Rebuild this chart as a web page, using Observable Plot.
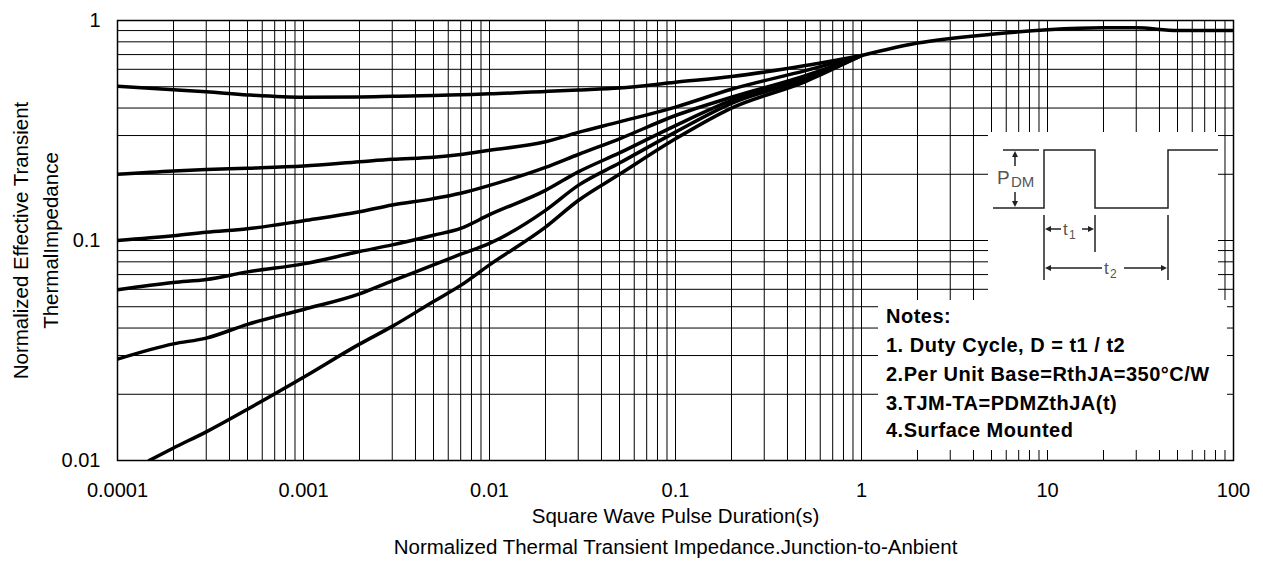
<!DOCTYPE html>
<html>
<head>
<meta charset="utf-8">
<script src="https://cdn.jsdelivr.net/npm/d3@7"></script>
<script src="https://cdn.jsdelivr.net/npm/@observablehq/plot@0.6"></script>
<style>
  body { margin: 0; background: #fff; }
  #chart svg { display: block; }
</style>
</head>
<body>
<div id="chart"></div>
<script>
// ---- tick labels ----
const xTicks = [0.0001, 0.001, 0.01, 0.1, 1, 10, 100];
const xTickLabels = ["0.0001", "0.001", "0.01", "0.1", "1", "10", "100"];
const yTicks = [0.01, 0.1, 1];
const yTickLabels = ["0.01", "0.1", "1"];
const mantissas = [1, 2, 3, 4, 5, 6, 7, 8, 9];

// ---- series (pulse duration in s, normalized Zth) ----
const pulseTime = [0.0001, 0.0002, 0.0003, 0.0005, 0.001, 0.002, 0.003, 0.005, 0.007, 0.01, 0.02, 0.03, 0.05, 0.1, 0.2, 0.5, 1];
const tailTime  = [1, 2, 5, 10, 20, 30, 50, 100];

const zD50 = [0.503, 0.484, 0.474, 0.459, 0.448, 0.449, 0.452, 0.456, 0.460, 0.464, 0.476, 0.483, 0.493, 0.524, 0.556, 0.624, 0.693];
const zTail = [0.693, 0.79, 0.866, 0.907, 0.926, 0.926, 0.90, 0.90];
const zD20 = [0.200, 0.207, 0.210, 0.213, 0.218, 0.228, 0.234, 0.239, 0.246, 0.257, 0.281, 0.310, 0.346, 0.404, 0.487, 0.592, 0.693];
const zD10 = [0.100, 0.105, 0.109, 0.113, 0.123, 0.135, 0.145, 0.155, 0.164, 0.178, 0.215, 0.246, 0.290, 0.370, 0.448, 0.562, 0.693];
const zD05 = [0.0597, 0.0644, 0.0665, 0.072, 0.0783, 0.0891, 0.0955, 0.1056, 0.1135, 0.131, 0.169, 0.205, 0.250, 0.333, 0.433, 0.550, 0.693];
const zD02 = [0.0289, 0.0339, 0.0360, 0.0416, 0.0486, 0.0572, 0.0656, 0.0774, 0.0866, 0.097, 0.137, 0.178, 0.225, 0.311, 0.420, 0.540, 0.693];
const singleTime = [0.000148, 0.0002, 0.0003, 0.0005, 0.001, 0.002, 0.003, 0.005, 0.007, 0.01, 0.02, 0.03, 0.05, 0.1, 0.2, 0.5, 1];
const zSingle    = [0.0100, 0.0114, 0.0135, 0.0171, 0.0239, 0.0338, 0.0407, 0.0528, 0.0625, 0.0775, 0.115, 0.152, 0.200, 0.290, 0.400, 0.528, 0.693];

const notes = [
  "Notes:",
  "1. Duty Cycle, D = t1 / t2",
  "2.Per Unit Base=RthJA=350°C/W",
  "3.TJM-TA=PDMZthJA(t)",
  "4.Surface Mounted"
];

// ---- build tables ----
const rows = [];
function addSeries(name, ts, zs) { ts.forEach((t, i) => rows.push({ s: name, t, z: zs[i] })); }
addSeries("D=0.5", pulseTime, zD50);
addSeries("tail", tailTime, zTail);
addSeries("D=0.2", pulseTime, zD20);
addSeries("D=0.1", pulseTime, zD10);
addSeries("D=0.05", pulseTime, zD05);
addSeries("D=0.02", pulseTime, zD02);
addSeries("single", singleTime, zSingle);

const gridX = xTicks.slice(0, -1).flatMap(d => mantissas.map(m => +(d * m).toPrecision(3))).concat([xTicks[xTicks.length - 1]]);
const gridY = yTicks.slice(0, -1).flatMap(d => mantissas.map(m => +(d * m).toPrecision(3))).concat([yTicks[yTicks.length - 1]]);

const FONT = "'Liberation Sans', Arial, Helvetica, sans-serif";

const plot = Plot.plot({
  width: 1263,
  height: 565,
  marginLeft: 117,
  marginRight: 30,
  marginTop: 20,
  marginBottom: 105,
  style: { fontFamily: FONT, fontSize: "20px", color: "#000", background: "#fff", overflow: "visible" },
  x: { type: "log", domain: [0.0001, 100] },
  y: { type: "log", domain: [0.01, 1] },
  marks: [
    Plot.ruleX(gridX, { stroke: "#000", strokeWidth: 1 }),
    Plot.ruleY(gridY, { stroke: "#000", strokeWidth: 1 }),
    Plot.line(rows, { x: "t", y: "z", z: "s", stroke: "#000", strokeWidth: 3.5, curve: "monotone-x", clip: true }),
    Plot.frame({ stroke: "#000", strokeWidth: 1.5 }),
    Plot.axisX(xTicks, { tickSize: 0, tickPadding: 22, tickFormat: d => xTickLabels[xTicks.indexOf(d)], label: null, fontSize: 20 }),
    Plot.axisY(yTicks, { tickSize: 0, tickPadding: 17, tickFormat: d => yTickLabels[yTicks.indexOf(d)], label: null, fontSize: 20 }),
    Plot.text(["Square Wave Pulse Duration(s)"], { frameAnchor: "bottom", dy: 62, fontSize: 20.5 }),
    Plot.text(["Normalized Thermal Transient Impedance.Junction-to-Anbient"], { frameAnchor: "bottom", dy: 93, fontSize: 20.5 }),
    Plot.text(["Normalized Effective Transient\nThermalImpedance"], { frameAnchor: "left", dx: -84, rotate: -90, textAnchor: "middle", fontSize: 20.5, lineHeight: 1.46 })
  ]
});

document.getElementById("chart").appendChild(plot);

// ---- inset annotation (duty cycle diagram + notes) ----
const svg = d3.select(plot);
const g = svg.append("g").attr("font-family", FONT).attr("text-anchor", "start");

// white panels covering the grid
g.append("rect").attr("x", 988).attr("y", 132).attr("width", 230).attr("height", 168).attr("fill", "#fff");
g.append("rect").attr("x", 878).attr("y", 300).attr("width", 349).attr("height", 150).attr("fill", "#fff");

const ink = "#222";
const dg = g.append("g").attr("stroke", ink).attr("stroke-width", 1.5).attr("fill", "none");
dg.append("path").attr("d", "M993,208 H1044 V150 H1095 V208 H1168 V150 H1218");
dg.append("path").attr("d", "M1003,150 H1039");
// P_DM dimension
dg.append("path").attr("d", "M1015,156 V166 M1015,192 V202");
dg.append("path").attr("d", "M1044,215 V280 M1095,215 V252 M1168,215 V280");
dg.append("path").attr("d", "M1050,229 H1061 M1082,229 H1089");
dg.append("path").attr("d", "M1050,268 H1102 M1124,268 H1162");

const ah = g.append("g").attr("fill", ink);
function arrow(x, y, dir) {
  const s = 6, w = 3;
  let p;
  if (dir === "up") p = `M${x},${y} L${x - w},${y + s} L${x + w},${y + s} Z`;
  if (dir === "down") p = `M${x},${y} L${x - w},${y - s} L${x + w},${y - s} Z`;
  if (dir === "left") p = `M${x},${y} L${x + s},${y - w} L${x + s},${y + w} Z`;
  if (dir === "right") p = `M${x},${y} L${x - s},${y - w} L${x - s},${y + w} Z`;
  ah.append("path").attr("d", p);
}
arrow(1015, 151, "up"); arrow(1015, 207, "down");
arrow(1045, 229, "left"); arrow(1094, 229, "right");
arrow(1045, 268, "left"); arrow(1167, 268, "right");

const tg = g.append("g").attr("fill", "#555");
tg.append("text").attr("x", 997).attr("y", 184).attr("font-size", 19).text("P");
tg.append("text").attr("x", 1011).attr("y", 187).attr("font-size", 15).text("DM");
tg.append("text").attr("x", 1063).attr("y", 235).attr("font-size", 17).text("t");
tg.append("text").attr("x", 1069).attr("y", 239).attr("font-size", 12).text("1");
tg.append("text").attr("x", 1104).attr("y", 274).attr("font-size", 17).text("t");
tg.append("text").attr("x", 1110).attr("y", 278).attr("font-size", 12).text("2");

const ng = g.append("g").attr("font-weight", "bold").attr("font-size", 20).attr("fill", "#000").attr("letter-spacing", 0.5);
const baselines = [322.7, 352, 380.5, 409.5, 437.3];
notes.forEach((s, i) => ng.append("text").attr("x", 886).attr("y", baselines[i]).text(s));
</script>
</body>
</html>
